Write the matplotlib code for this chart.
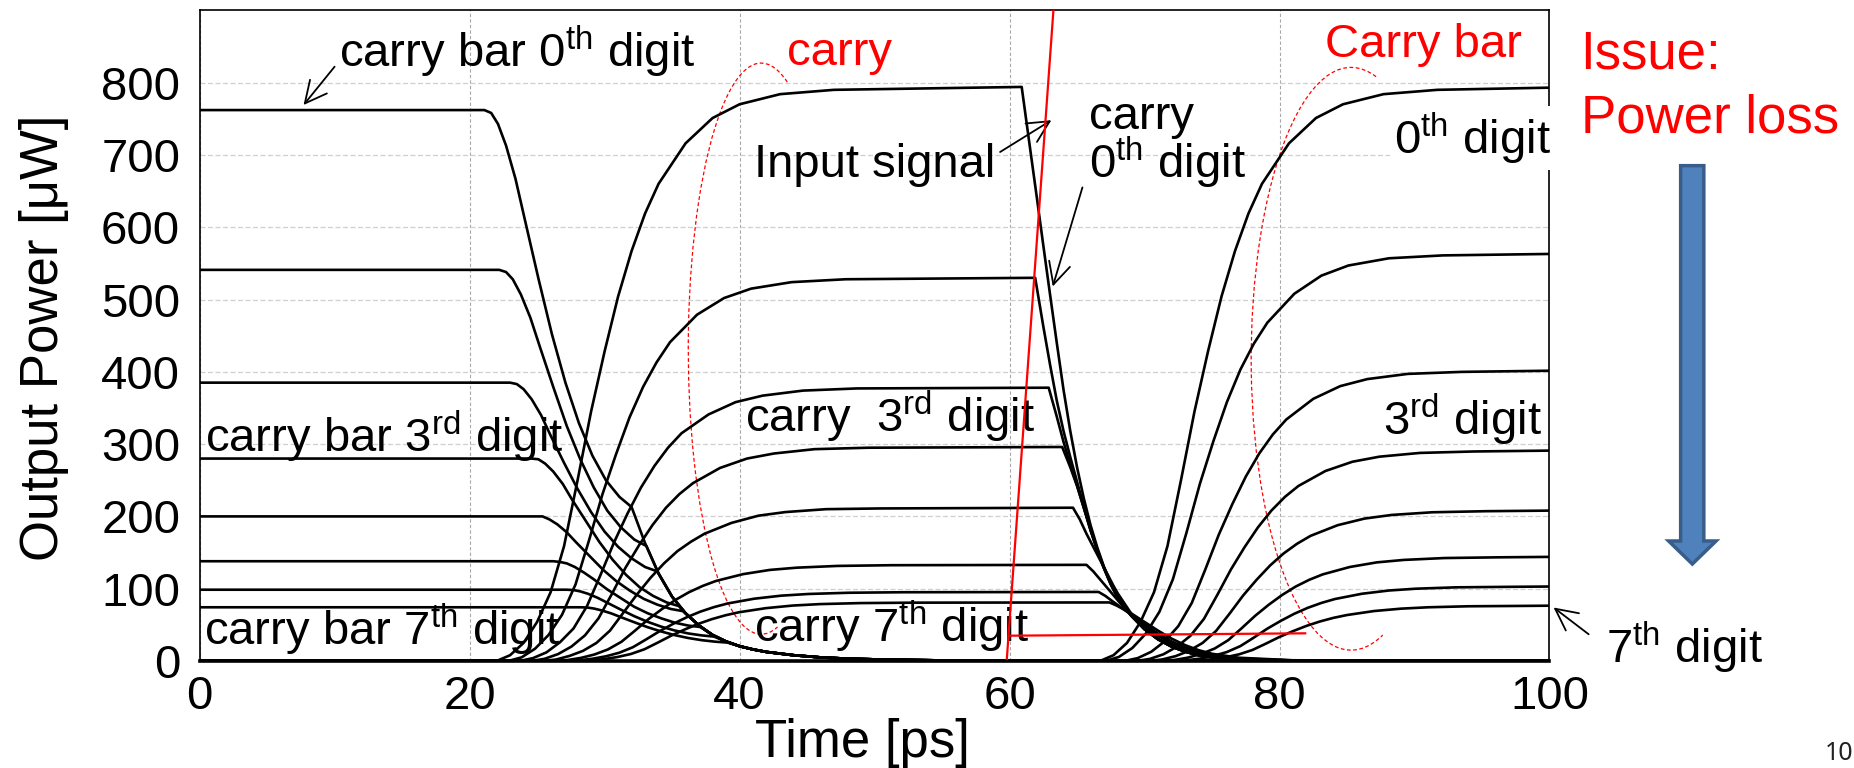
import numpy as np
import matplotlib.pyplot as plt
from matplotlib.patches import Arc, Polygon

plt.rcParams['font.family'] = ['Liberation Sans', 'DejaVu Sans']
plt.rcParams['mathtext.fontset'] = 'custom'
plt.rcParams['mathtext.rm'] = 'Liberation Sans'
plt.rcParams['mathtext.it'] = 'Liberation Sans:italic'
plt.rcParams['mathtext.bf'] = 'Liberation Sans:bold'

# ---- data (time in ps, power in uW) ----

# carry bar outputs, 0th..7th digit: plateau + fall down to the kink
bar_fall_t = [
    [0, 21.1, 21.6, 22.1, 22.7, 23.4, 24.1, 25.1, 26.1, 27.1, 28.1, 29.1, 30.1, 31.1, 32.0],
    [0, 22.2, 22.7, 23.2, 23.8, 24.5, 25.2, 26.2, 27.2, 28.2, 29.2, 30.2, 31.2, 32.2, 33.1],
    [0, 23.0, 23.5, 24.0, 24.6, 25.3, 26.0, 27.0, 28.0, 29.0, 30.0, 31.0, 32.0, 33.0, 33.9],
    [0, 24.6, 25.1, 25.6, 26.2, 26.9, 27.6, 28.6, 29.6, 30.6, 31.6, 32.6, 33.6, 34.6, 35.5],
    [0, 24.9, 25.4, 25.9, 26.5, 27.2, 27.9, 28.9, 29.9, 30.9, 31.9, 32.9, 33.9, 34.9, 35.8],
    [0, 26.2, 26.7, 27.2, 27.8, 28.5, 29.2, 30.2, 31.2, 32.2, 33.2, 34.2, 35.2, 36.2, 37.1],
    [0, 27.2, 27.7, 28.2, 28.8, 29.5, 30.2, 31.2, 32.2, 33.2, 34.2, 35.2, 36.2, 37.2, 38.1],
    [0, 28.2, 28.7, 29.2, 29.8, 30.5, 31.2, 32.2, 33.2, 34.2, 35.2, 36.2, 37.2, 38.2, 39.1],
]
bar_fall_v = [
    [762, 762, 758, 743, 713, 667, 610, 529, 452, 385, 329, 284, 250, 227, 213],
    [541, 541, 538, 528, 507, 475, 435, 379, 325, 279, 240, 208, 185, 168, 159],
    [385, 385, 383, 376, 362, 340, 312, 274, 238, 206, 179, 158, 142, 130, 124],
    [280, 280, 279, 273, 262, 245, 223, 194, 165, 140, 119, 102, 90, 81, 76],
    [200, 200, 200, 196, 189, 178, 164, 145, 126, 110, 97, 86, 78, 72, 69],
    [138, 138, 137, 135, 130, 122, 113, 99, 87, 75, 66, 59, 53, 49, 47],
    [98.6, 98.6, 98.1, 96.3, 92.8, 87.3, 80.6, 71.1, 62.0, 54.1, 47.5, 42.2, 38.1, 35.4, 33.8],
    [74.3, 74.3, 74.0, 72.6, 69.9, 65.8, 60.7, 53.6, 46.7, 40.8, 35.8, 31.8, 28.8, 26.7, 25.5],
]
# common decay after the kink
bar_tail_t = [32, 33, 34, 35, 36, 37, 38, 39, 40, 41, 42, 44, 46, 48, 51, 55, 60, 64]
bar_tail_v = [213, 163, 121, 89, 66, 49, 36, 27, 20.5, 16, 12.5, 8, 5, 3.2, 1.8, 0.8, 0.3, 0.1]

# carry bar outputs, rise at the end
bar_rise_t = [
    [66.7, 67.7, 68.7, 69.7, 70.7, 71.7, 72.7, 73.7, 74.7, 75.7, 76.7, 77.7, 78.7, 80.7, 82.7, 84.7, 87.7, 91.7, 100],
    [67.1, 68.1, 69.1, 70.1, 71.1, 72.1, 73.1, 74.1, 75.1, 76.1, 77.1, 78.1, 79.1, 81.1, 83.1, 85.1, 88.1, 92.1, 100],
    [68.5, 69.5, 70.5, 71.5, 72.5, 73.5, 74.5, 75.5, 76.5, 77.5, 78.5, 79.5, 80.5, 82.5, 84.5, 86.5, 89.5, 93.5, 100],
    [69.4, 70.4, 71.4, 72.4, 73.4, 74.4, 75.4, 76.4, 77.4, 78.4, 79.4, 80.4, 81.4, 83.4, 85.4, 87.4, 90.4, 94.4, 100],
    [70.3, 71.3, 72.3, 73.3, 74.3, 75.3, 76.3, 77.3, 78.3, 79.3, 80.3, 81.3, 82.3, 84.3, 86.3, 88.3, 91.3, 95.3, 100],
    [71.2, 72.2, 73.2, 74.2, 75.2, 76.2, 77.2, 78.2, 79.2, 80.2, 81.2, 82.2, 83.2, 85.2, 87.2, 89.2, 92.2, 96.2, 100],
    [72.1, 73.1, 74.1, 75.1, 76.1, 77.1, 78.1, 79.1, 80.1, 81.1, 82.1, 83.1, 84.1, 86.1, 88.1, 90.1, 93.1, 97.1, 100],
    [73.0, 74.0, 75.0, 76.0, 77.0, 78.0, 79.0, 80.0, 81.0, 82.0, 83.0, 84.0, 85.0, 87.0, 89.0, 91.0, 94.0, 98.0, 100],
]
bar_rise_v = [
    [0, 8, 25, 54, 95, 159, 250, 345, 428, 504, 567, 619, 660, 716, 751, 770, 784, 790, 793],
    [0, 5.6, 18, 38, 68, 113, 177, 245, 304, 358, 403, 439, 468, 508, 533, 547, 557, 561, 563],
    [0, 4, 12.8, 27.3, 48.2, 80.3, 126.5, 174.7, 216.8, 255, 287.1, 313.2, 334, 362.6, 380.2, 389.9, 397.1, 399.9, 401.5],
    [0, 2.9, 9.3, 19.8, 34.9, 58.2, 91.7, 126.6, 157.1, 184.8, 208.1, 227, 242.1, 262.8, 275.6, 282.6, 287.8, 289.8, 291],
    [0, 2.1, 6.7, 14.1, 25, 41.6, 65.5, 90.5, 112.3, 132.1, 148.7, 162.2, 173.1, 187.8, 197, 202, 205.7, 207.2, 208],
    [0, 1.4, 4.6, 9.8, 17.3, 28.8, 45.4, 62.6, 77.8, 91.4, 103, 112.3, 119.8, 130, 136.4, 139.8, 142.4, 143.4, 144],
    [0, 1, 3.3, 7, 12.4, 20.6, 32.4, 44.8, 55.6, 65.4, 73.6, 80.3, 85.7, 93, 97.5, 100, 101.9, 102.6, 103],
    [0, 0.8, 2.4, 5.2, 9.2, 15.3, 24.1, 33.3, 41.3, 48.6, 54.7, 59.7, 63.6, 69.1, 72.4, 74.3, 75.7, 76.2, 76.5],
]

# carry outputs, 0th..7th digit: rise, plateau, fall
carry_t = [
    [0, 22.0, 23.0, 24.0, 25.0, 26.0, 27.0, 28.0, 29.0, 30.0, 31.0, 32.0, 33.0, 34.0, 36.0, 38.0, 40.0, 43.0, 47.0,
     60.9, 61.5, 62.0, 62.5, 63.0, 63.5, 64.0, 64.5, 65.0, 65.5, 66.0, 66.5, 67.0, 67.5, 68.0],
    [0, 22.85, 23.85, 24.85, 25.85, 26.85, 27.85, 28.85, 29.85, 30.85, 31.85, 32.85, 33.85, 34.85, 36.85, 38.85,
     40.85, 43.85, 47.85, 61.9, 62.5, 63.0, 63.5, 64.0, 64.5, 65.0, 65.5, 66.0, 66.5, 67.0, 67.5, 68.0],
    [0, 23.7, 24.7, 25.7, 26.7, 27.7, 28.7, 29.7, 30.7, 31.7, 32.7, 33.7, 34.7, 35.7, 37.7, 39.7, 41.7, 44.7, 48.7,
     62.9, 63.5, 64.0, 64.5, 65.0, 65.5, 66.0, 66.5, 67.0, 67.5, 68.0],
    [0, 24.55, 25.55, 26.55, 27.55, 28.55, 29.55, 30.55, 31.55, 32.55, 33.55, 34.55, 35.55, 36.55, 38.55, 40.55,
     42.55, 45.55, 49.55, 63.9, 64.5, 65.0, 65.5, 66.0, 66.5, 67.0, 67.5, 68.0],
    [0, 25.4, 26.4, 27.4, 28.4, 29.4, 30.4, 31.4, 32.4, 33.4, 34.4, 35.4, 36.4, 37.4, 39.4, 41.4, 43.4, 46.4, 50.4,
     64.7, 65.2, 65.7, 66.2, 66.7, 67.2, 67.7, 68.0, 68.5, 69.0, 70.0, 71.0, 72.0, 73.0, 74.0, 76.0, 80.0, 100],
    [0, 26.25, 27.25, 28.25, 29.25, 30.25, 31.25, 32.25, 33.25, 34.25, 35.25, 36.25, 37.25, 38.25, 40.25, 42.25,
     44.25, 47.25, 51.25, 65.7, 66.2, 66.7, 67.2, 67.7, 68.2, 69.0, 70.0, 71.0, 72.0, 73.0, 74.0, 75.0, 77.0, 81.0, 100],
    [0, 27.1, 28.1, 29.1, 30.1, 31.1, 32.1, 33.1, 34.1, 35.1, 36.1, 37.1, 38.1, 39.1, 41.1, 43.1, 45.1, 48.1, 52.1,
     66.6, 67.1, 67.6, 68.2, 69.0, 70.0, 71.0, 72.0, 73.0, 74.0, 75.0, 77.0, 81.0, 100],
    [0, 27.95, 28.95, 29.95, 30.95, 31.95, 32.95, 33.95, 34.95, 35.95, 36.95, 37.95, 38.95, 39.95, 41.95, 43.95,
     45.95, 48.95, 52.95, 67.4, 67.9, 68.4, 69.0, 70.0, 71.0, 72.0, 73.0, 74.0, 75.0, 77.0, 81.0, 100],
]
carry_v = [
    [0, 0, 8, 25, 54, 95, 159, 250, 345, 428, 504, 567, 619, 660, 716, 751, 770, 784, 790,
     794, 712, 644, 575, 507, 440, 375, 318, 268, 225, 188, 157, 130, 108, 90],
    [0, 0, 5, 17, 36, 64, 106, 167, 231, 286, 337, 379, 413, 441, 479, 502, 515, 524, 528,
     530, 463, 410, 360, 318, 282, 248, 214, 182, 154, 129, 107, 89],
    [0, 0, 4, 12, 26, 45, 76, 119, 164, 204, 240, 270, 295, 315, 341, 358, 367, 374, 377,
     378, 338, 303, 272, 243, 212, 181, 153, 128, 106, 88],
    [0, 0, 3, 9.5, 20, 35.5, 59, 93, 129, 160, 188, 212, 231, 246, 267, 280, 287, 293, 295,
     296, 268, 242, 212, 181, 153, 128, 106, 88],
    [0, 0, 2, 7, 14, 25, 42, 67, 92, 115, 135, 152, 165, 176, 191, 201, 206, 210, 211,
     212, 196, 176, 158, 140, 122, 104, 94, 80, 66, 46, 31, 21, 14, 9, 3.5, 0.6, 0],
    [0, 0, 1.3, 4.3, 9, 16, 26.6, 41.9, 57.9, 71.8, 84.5, 95.1, 103.7, 110.7, 120.1, 126, 129.1, 131.5, 132.5,
     133, 124, 113, 102, 91, 80, 65, 49, 35, 24, 16, 10.5, 7, 3, 0.6, 0],
    [0, 0, 1, 3.1, 6.5, 11.5, 19.1, 30.1, 41.5, 51.6, 60.6, 68.3, 74.5, 79.5, 86.2, 90.4, 92.7, 94.4, 95.1,
     95.5, 90, 83, 75, 64, 51, 38, 27, 19, 13, 8.5, 3.5, 0.8, 0],
    [0, 0, 0.8, 2.6, 5.5, 9.7, 16.2, 25.5, 35.2, 43.7, 51.4, 57.9, 63.2, 67.4, 73.1, 76.7, 78.7, 80.1, 80.7,
     81, 77, 72, 66, 54, 42, 31, 22, 15, 10, 4.5, 1, 0],
]
# common decay of the upper carry outputs
carry_tail_t = [68, 69, 70, 71, 72, 73, 74, 76, 80, 85, 100]
carry_tail_v = [89, 63, 44, 30, 20, 13, 8, 3, 0.5, 0, 0]

# red marker lines: input signal edge and threshold
input_t = [59.8, 63.25]
input_v = [3, 900]
thresh_t = [60.0, 81.9]
thresh_v = [35, 38.3]

x_ticks = [0, 20, 40, 60, 80, 100]
y_ticks = [0, 100, 200, 300, 400, 500, 600, 700, 800]


def arc_theta(phi, w, h):
    # matplotlib's Arc stretches angles, give it the angle that lands on phi
    p = np.deg2rad(phi)
    return np.rad2deg(np.arctan2((h / w) * np.sin(p), np.cos(p)))


def main():
    fig = plt.figure(figsize=(18.54, 7.68), dpi=100)
    ax = fig.add_axes([0.10766, 0.13932, 0.72810, 0.84727])

    lw = 1.9
    for k in range(8):
        t = list(bar_fall_t[k]) + [x for x in bar_tail_t if x > bar_fall_t[k][-1]] + bar_rise_t[k]
        v = list(bar_fall_v[k]) + [y for x, y in zip(bar_tail_t, bar_tail_v) if x > bar_fall_t[k][-1]] + bar_rise_v[k]
        ax.plot(t, v, color='black', lw=lw, zorder=3, solid_joinstyle='round')

        t = list(carry_t[k])
        v = list(carry_v[k])
        if t[-1] < 100:
            t += [x for x in carry_tail_t if x > t[-1]]
            v += [y for x, y in zip(carry_tail_t, carry_tail_v) if x > carry_t[k][-1]]
        ax.plot(t, v, color='black', lw=lw, zorder=3, solid_joinstyle='round')

    ax.plot(input_t, input_v, color='red', lw=1.6, zorder=4)
    ax.plot(thresh_t, thresh_v, color='red', lw=1.6, zorder=4)

    # dashed ellipses around the carry / carry bar groups
    for cx, cy, w, h, p1, p2 in [(41.6, 432, 10.8, 790, 69, 283), (85.3, 418, 14.8, 806, 75.5, 288.5)]:
        arc = Arc((cx, cy), w, h, theta1=arc_theta(p1, w, h), theta2=arc_theta(p2, w, h),
                  color='red', lw=0.9, linestyle=(0, (3, 2)), zorder=2)
        ax.add_patch(arc)

    ax.set_xlim(0, 100)
    ax.set_ylim(0, 900)
    ax.set_xticks(x_ticks)
    ax.set_yticks(y_ticks)
    ax.tick_params(axis='both', length=0, labelsize=34)
    ax.tick_params(axis='x', pad=10)
    ax.tick_params(axis='y', pad=14)
    ax.grid(axis='y', color='#cfcfcf', lw=0.9, linestyle=(0, (4, 2)))
    ax.grid(axis='x', color='#a8a8a8', lw=0.8, linestyle=(0, (3, 2)))
    ax.set_axisbelow(True)
    for s in ['left', 'top', 'right']:
        ax.spines[s].set_linewidth(1.2)
    ax.spines['bottom'].set_linewidth(2.6)

    fs = 34
    ax.text(10.3, 822, r'carry bar 0$^{\rm th}$ digit', fontsize=fs, va='baseline')
    ax.text(0.4, 289, r'carry bar 3$^{\rm rd}$ digit', fontsize=fs, va='baseline')
    ax.text(0.3, 22, r'carry bar 7$^{\rm th}$ digit', fontsize=fs, va='baseline')
    ax.text(40.4, 317, r'carry  3$^{\rm rd}$ digit', fontsize=fs, va='baseline')
    ax.text(41.1, 27, r'carry 7$^{\rm th}$ digit', fontsize=fs, va='baseline')
    ax.text(41.1, 670, 'Input signal', fontsize=fs, va='baseline')
    # two-line label; baseline given is that of the lower line
    ax.text(65.9, 668, 'carry\n' + r'0$^{\rm th}$ digit', fontsize=fs, va='baseline', linespacing=0.9)
    ax.text(100.1, 702, r'0$^{\rm th}$ digit', fontsize=fs, va='baseline', ha='right', clip_on=False,
            zorder=5, bbox=dict(facecolor='white', edgecolor='none', pad=3))
    ax.text(99.4, 313, r'3$^{\rm rd}$ digit', fontsize=fs, va='baseline', ha='right')
    ax.text(43.5, 824, 'carry', fontsize=fs, va='baseline', color='red')
    ax.text(83.4, 835, 'Carry bar', fontsize=fs, va='baseline', color='red')
    ax.text(104.2, -3, r'7$^{\rm th}$ digit', fontsize=fs, va='baseline', clip_on=False)

    arrow = dict(arrowstyle='->,head_length=0.6,head_width=0.3', color='black', lw=1.3,
                 mutation_scale=26, shrinkA=0, shrinkB=0)
    ax.annotate('', xy=(7.7, 769), xytext=(10.0, 822), arrowprops=arrow)
    ax.annotate('', xy=(63.1, 748), xytext=(59.3, 704), arrowprops=arrow)
    ax.annotate('', xy=(63.2, 518), xytext=(65.4, 655), arrowprops=arrow)
    ax.annotate('', xy=(100.3, 74), xytext=(102.9, 37), arrowprops=arrow, annotation_clip=False)

    fig.text(58 / 1854, 1 - 338 / 768, 'Output Power [\u03bcW]', fontsize=38, rotation=90,
             rotation_mode='anchor', ha='center', va='baseline')
    fig.text(862 / 1854, 1 - 757 / 768, 'Time [ps]', fontsize=38, ha='center', va='baseline')

    fig.text(0.8525, 0.9111, 'Issue:', fontsize=38, color='red', va='baseline')
    fig.text(0.8525, 0.8272, 'Power loss', fontsize=38, color='red', va='baseline')

    # big blue arrow pointing down
    shaft_l, shaft_r, head_l, head_r, mid = 0.9065, 0.9190, 0.9000, 0.9256, 0.9128
    top, neck, tip = 0.7843, 0.2956, 0.2656
    blue = Polygon([(shaft_l, top), (shaft_r, top), (shaft_r, neck), (head_r, neck), (mid, tip),
                    (head_l, neck), (shaft_l, neck)], closed=True, transform=fig.transFigure,
                   facecolor='#4f81bd', edgecolor='#385d8a', lw=2.5)
    fig.patches.append(blue)

    fig.text(0.9995, 0.0104, '10', fontsize=18, family='Noto Sans', color='#222222', ha='right', va='baseline')

    fig.savefig('out.png', dpi=100)


if __name__ == "__main__":
    main()
